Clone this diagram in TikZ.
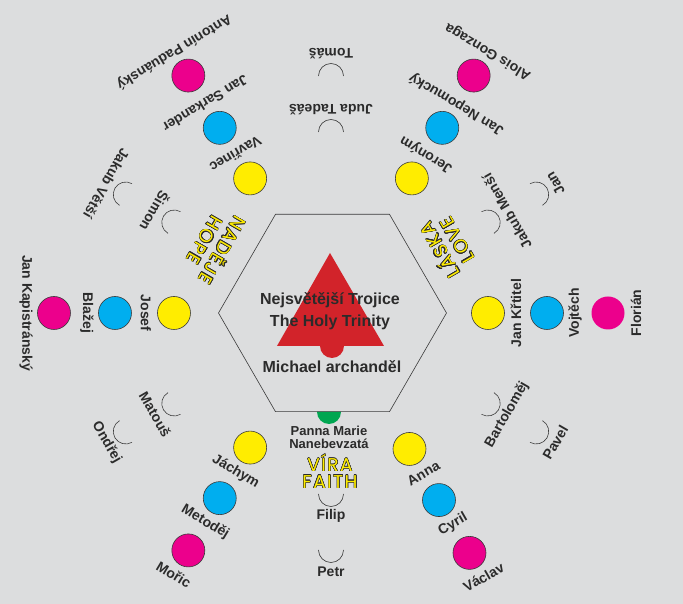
\documentclass[tikz,border=0pt]{standalone}
\usepackage{fontspec}
\setmainfont{Liberation Sans}
\newfontfamily\virtuefont[LetterSpace=8]{Poppins}
\usepackage{contour}
\contourlength{0.4pt}
\usetikzlibrary{calc}
\definecolor{bg}{HTML}{DCDDDE}
\definecolor{txt}{HTML}{2B2B2B}
\definecolor{ln}{HTML}{3A3A3A}
\definecolor{cy}{HTML}{00AEEF}
\definecolor{mg}{HTML}{EC008C}
\definecolor{ye}{HTML}{FFED00}
\definecolor{gr}{HTML}{00A651}
\definecolor{rd}{HTML}{D2232A}
\begin{document}
\begin{tikzpicture}[x=1pt,y=1pt,
  lbl/.style={font=\fontsize{14}{16}\selectfont\bfseries, text=txt, inner sep=0pt, anchor=center},
  dot/.style={circle, minimum size=33pt, inner sep=0pt, line width=0.6pt, draw=ln},
  arcline/.style={draw=ln, line width=0.6pt},
  virtue/.style={font=\virtuefont\fontsize{18.5}{18.5}\selectfont, text=ye, inner sep=0pt},
  midtext/.style={font=\fontsize{16}{18}\selectfont\bfseries, text=txt, inner sep=0pt}]
\useasboundingbox (-331,-291) rectangle (352,313);
\fill[bg] (-331,-291) rectangle (352,313);
% spokes with circles
\foreach \a/\ny/\nb/\nm [count=\i] in {0/Jan Křtitel/Vojtěch/Florián, 59/Jeroným/Jan Nepomucký/Alois Gonzaga, 121/Vavřinec/Jan Sarkander/Antonín Paduánský, 180/Josef/Blažej/Jan Kapistránský, 239/Jáchym/Metoděj/Mořic, 300/Anna/Cyril/Václav}{
  \ifnum\i=1 \def\op{0}\else\def\op{1}\fi
  \node[dot, fill=ye] (y\i) at (\a:157pt) {};
  \node[dot, fill=cy] (b\i) at (\a:216pt) {};
  \node[dot, fill=mg, draw opacity=\op] (m\i) at (\a:277pt) {};
  \node[lbl, rotate=\a+90] (ly\i) at (\a:185pt) {\ny};
  \node[lbl, rotate=\a+90] (lb\i) at (\a:244pt) {\nb};
  \node[lbl, rotate=\a+90] (lm\i) at (\a:305pt) {\nm};
}
% apostles with arcs
\foreach \a/\ni/\no [count=\i] in {30/Jakub Menší/Jan, 90/Juda Tadeáš/Tomáš, 150/Šimon/Jakub Větší, 210/Matouš/Ondřej, 270/Filip/Petr, 330/Bartoloměj/Pavel}{
  \draw[arcline] ($(\a:181pt)+(\a-90:12.5pt)$) arc[start angle=\a-90, end angle=\a+90, radius=12.5pt];
  \draw[arcline] ($(\a:237pt)+(\a-90:12.5pt)$) arc[start angle=\a-90, end angle=\a+90, radius=12.5pt];
  \node[lbl, rotate=\a+90] (li\i) at (\a:203pt) {\ni};
  \node[lbl, rotate=\a+90] (lo\i) at (\a:259pt) {\no};
}
% centre
\fill[gr] (-2,-99) circle (12);
\filldraw[fill=bg, draw=ln, line width=0.6pt] (115.5,0) -- (58.5,98.7) -- (-55.5,98.7) -- (-112.5,0) -- (-55.5,-98.7) -- (58.5,-98.7) -- cycle;
\fill[rd] (1,-33) circle (12);
\fill[rd] (-1,60) -- (-54,-33) -- (53,-33) -- cycle;
\node[midtext] (t1) at (-1,13) {Nejsvětější Trojice};
\node[midtext] (t2) at (-1,-9) {The Holy Trinity};
\node[midtext] (t3) at (1,-54) {Michael archanděl};
\node[lbl, font=\fontsize{13}{13}\selectfont\bfseries] (pm1) at (-2,-118) {Panna Marie};
\node[lbl, font=\fontsize{13}{13}\selectfont\bfseries] (pm2) at (-2,-131) {Nanebevzatá};
% virtues
\node[virtue, rotate=120] (v1a) at (30:124pt) {\contour{txt}{LÁSKA}};
\node[virtue, rotate=120] (v1b) at (30:146pt) {\contour{txt}{LOVE}};
\node[virtue, rotate=240] (v2a) at (150:124pt) {\contour{txt}{NADĚJE}};
\node[virtue, rotate=240] (v2b) at (150:146pt) {\contour{txt}{HOPE}};
\node[virtue] (v3a) at (-1,-150) {\contour{txt}{VÍRA}};
\node[virtue] (v3b) at (-1,-169) {\contour{txt}{FAITH}};
\end{tikzpicture}
\end{document}
